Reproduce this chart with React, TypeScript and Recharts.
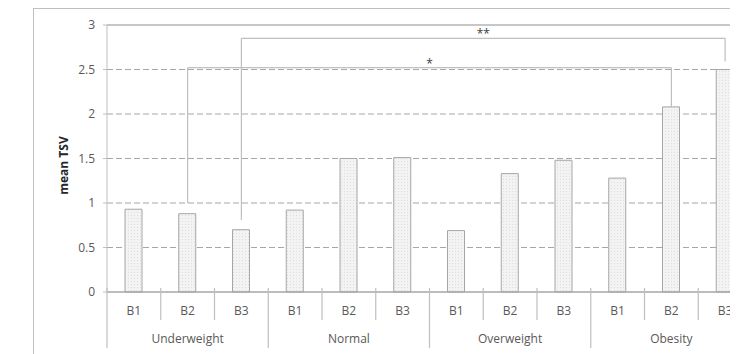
import React from 'react';
import { BarChart, Bar, XAxis, YAxis, CartesianGrid, ReferenceLine } from 'recharts';

const groups = ['Underweight', 'Normal', 'Overweight', 'Obesity'];
const subLabels = ['B1', 'B2', 'B3'];
const underweight = [0.93, 0.88, 0.7];
const normal = [0.92, 1.5, 1.51];
const overweight = [0.69, 1.33, 1.48];
const obesity = [1.28, 2.08, 2.5];
const yTicks = [0, 0.5, 1, 1.5, 2, 2.5, 3];
const dashedGrid = [0.5, 1, 1.5, 2, 2.5];

const sigLabels = ['*', '**'];
const sigFrom = ['Underweight-B2', 'Underweight-B3'];
const sigTo = ['Obesity-B2', 'Obesity-B3'];
const sigFromY = [1.0, 0.81];
const sigTopY = [2.52, 2.85];
const sigToY = [2.08, 2.59];

const seriesByGroup = [underweight, normal, overweight, obesity];
const data = groups.flatMap((g, gi) =>
  subLabels.map((b, bi) => ({ key: `${g}-${b}`, group: g, b, value: seriesByGroup[gi][bi] }))
);

const CHART_W = 760;
const CHART_H = 346;
const MARGIN = { top: 17, right: 16, bottom: 0, left: 0 };
const Y_W = 99;
const X_H = 62;
const TEXT = '#595959';
const LINE = '#bfbfbf';
const FONT = '"Open Sans", "Liberation Sans", sans-serif';

const plotW = CHART_W - MARGIN.left - MARGIN.right - Y_W;
const halfBand = plotW / data.length / 2;

function CatTick(props: any) {
  const { x, y, payload } = props;
  const idx = payload.index;
  const d = data[idx];
  const first = idx % 3 === 0;
  const mid = idx % 3 === 1;
  const last = idx === data.length - 1;
  return (
    <g>
      <line x1={x - halfBand} x2={x - halfBand} y1={y - 4} y2={first ? y + 56 : y + 28} stroke={LINE} strokeWidth={1.2} />
      {last && <line x1={x + halfBand} x2={x + halfBand} y1={y - 4} y2={y + 56} stroke={LINE} strokeWidth={1.2} />}
      <text x={x} y={y + 23} textAnchor="middle" fill={TEXT} fontSize={12} fontFamily={FONT}>{d.b}</text>
      {mid && (
        <text x={x} y={y + 51} textAnchor="middle" fill={TEXT} fontSize={12} fontFamily={FONT}>{d.group}</text>
      )}
    </g>
  );
}

function YTitle(props: any) {
  const vb = props.viewBox;
  const cx = vb.x + 55;
  const cy = vb.y + vb.height / 2 + 7;
  return (
    <text x={cx} y={cy} transform={`rotate(-90, ${cx}, ${cy})`} textAnchor="middle" dominantBaseline="central"
      fill="#262626" fontWeight="bold" fontSize={12} fontFamily={FONT}>mean TSV</text>
  );
}

export default function App() {
  return (
    <div style={{ position: 'relative', width: 730, height: 346, overflow: 'hidden', fontFamily: FONT }}>
      <svg width={0} height={0} style={{ position: 'absolute' }}>
        <defs>
          <pattern id="dots" width={3} height={3} patternUnits="userSpaceOnUse">
            <rect width={3} height={3} fill="#f3f3f3" />
            <rect x={0} y={0} width={1} height={1} fill="#dedede" />
          </pattern>
        </defs>
      </svg>
      <div style={{ position: 'absolute', left: 25, top: 0, width: 800, height: 400, border: `1px solid ${LINE}` }} />
      <div style={{ position: 'absolute', left: 0, top: 0 }}>
        <BarChart width={CHART_W} height={CHART_H} data={data} margin={MARGIN}>
          <CartesianGrid vertical={false} stroke="#a6a6a6" strokeDasharray="6 3" horizontalValues={dashedGrid} />
          <XAxis dataKey="key" height={X_H} tickSize={0} tickMargin={0} tick={<CatTick />} interval={0}
            axisLine={{ stroke: '#a6a6a6', strokeWidth: 1.6 }} tickLine={false} />
          <YAxis width={Y_W} domain={[0, 3]} ticks={yTicks} tickSize={4} tickMargin={8}
            tick={{ fill: TEXT, fontSize: 12, fontFamily: FONT }}
            axisLine={{ stroke: LINE }} tickLine={{ stroke: LINE }}
            label={{ content: (p: any) => <YTitle {...p} /> }} />
          <ReferenceLine y={3} stroke="#b5b5b5" strokeWidth={1.3} />
          <Bar dataKey="value" barSize={17} fill="url(#dots)" stroke="#a6a6a6" strokeWidth={1} isAnimationActive={false} />
          {sigLabels.map((lab, i) => (
            <ReferenceLine key={`a${i}`} segment={[{ x: sigFrom[i], y: sigFromY[i] }, { x: sigFrom[i], y: sigTopY[i] }]}
              stroke={LINE} strokeWidth={1.2} ifOverflow="visible" />
          ))}
          {sigLabels.map((lab, i) => (
            <ReferenceLine key={`b${i}`} segment={[{ x: sigFrom[i], y: sigTopY[i] }, { x: sigTo[i], y: sigTopY[i] }]}
              stroke={LINE} strokeWidth={1.2} ifOverflow="visible"
              label={{ value: lab, position: 'top', offset: 0, fill: '#404040', fontSize: 12, fontFamily: FONT }} />
          ))}
          {sigLabels.map((lab, i) => (
            <ReferenceLine key={`c${i}`} segment={[{ x: sigTo[i], y: sigTopY[i] }, { x: sigTo[i], y: sigToY[i] }]}
              stroke={LINE} strokeWidth={1.2} ifOverflow="visible" />
          ))}
        </BarChart>
      </div>
    </div>
  );
}
